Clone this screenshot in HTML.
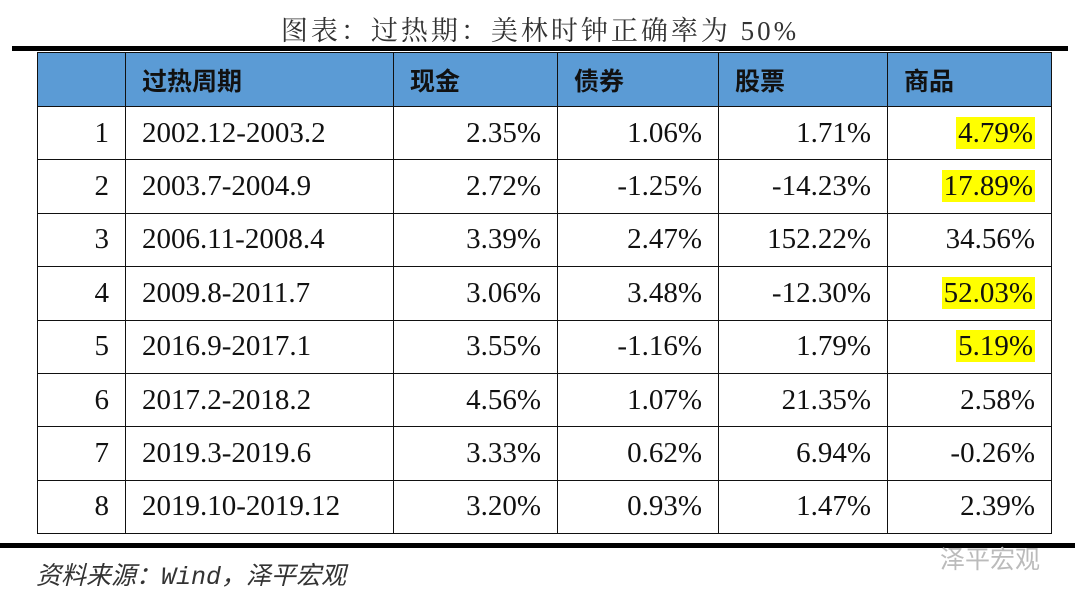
<!DOCTYPE html>
<html><head><meta charset="utf-8"><style>
body{margin:0;width:1080px;height:606px;background:#fff;position:relative;overflow:hidden;font-family:"Liberation Serif","Noto Serif CJK SC",serif;}
.t{position:absolute;left:0;width:1080px;top:9px;text-align:center;font-size:27px;color:#333;letter-spacing:3px;}
.bar{position:absolute;background:#000;}
table{position:absolute;left:37px;top:52px;border-collapse:collapse;}
td{border:1.5px solid #111;height:53.4px;padding:0 16px;font-size:29px;text-align:right;color:#111;box-sizing:border-box;}
tr.h td{background:#5b9bd5;text-align:left;font-family:"Noto Sans CJK SC",sans-serif;font-weight:bold;font-size:25px;height:54px;}
td.l{text-align:left;}
.y{background:#ffff00;padding:0 2px;}
.s{position:absolute;left:36px;top:556px;font-size:25px;font-style:italic;color:#333;font-family:"Liberation Mono","Noto Sans CJK SC",monospace;}
.w{position:absolute;left:940px;top:540px;font-size:25px;color:#bbb;font-family:"Noto Sans CJK SC",sans-serif;}
</style></head><body>
<div class="t">图表：过热期：美林时钟正确率为 50%</div>
<div class="bar" style="left:12px;top:46px;width:1056px;height:5px"></div>
<table>
<colgroup><col style="width:88px"><col style="width:268px"><col style="width:164px"><col style="width:161px"><col style="width:169px"><col style="width:164px"></colgroup>
<tr class="h"><td></td><td>过热周期</td><td>现金</td><td>债券</td><td>股票</td><td>商品</td></tr>
<tr><td>1</td><td class="l">2002.12-2003.2</td><td>2.35%</td><td>1.06%</td><td>1.71%</td><td><span class="y">4.79%</span></td></tr>
<tr><td>2</td><td class="l">2003.7-2004.9</td><td>2.72%</td><td>-1.25%</td><td>-14.23%</td><td><span class="y">17.89%</span></td></tr>
<tr><td>3</td><td class="l">2006.11-2008.4</td><td>3.39%</td><td>2.47%</td><td>152.22%</td><td>34.56%</td></tr>
<tr><td>4</td><td class="l">2009.8-2011.7</td><td>3.06%</td><td>3.48%</td><td>-12.30%</td><td><span class="y">52.03%</span></td></tr>
<tr><td>5</td><td class="l">2016.9-2017.1</td><td>3.55%</td><td>-1.16%</td><td>1.79%</td><td><span class="y">5.19%</span></td></tr>
<tr><td>6</td><td class="l">2017.2-2018.2</td><td>4.56%</td><td>1.07%</td><td>21.35%</td><td>2.58%</td></tr>
<tr><td>7</td><td class="l">2019.3-2019.6</td><td>3.33%</td><td>0.62%</td><td>6.94%</td><td>-0.26%</td></tr>
<tr><td>8</td><td class="l">2019.10-2019.12</td><td>3.20%</td><td>0.93%</td><td>1.47%</td><td>2.39%</td></tr>
</table>
<div class="bar" style="left:0;top:543px;width:1075px;height:5px"></div>
<div class="s">资料来源：Wind，泽平宏观</div>
<div class="w">泽平宏观</div>
</body></html>
